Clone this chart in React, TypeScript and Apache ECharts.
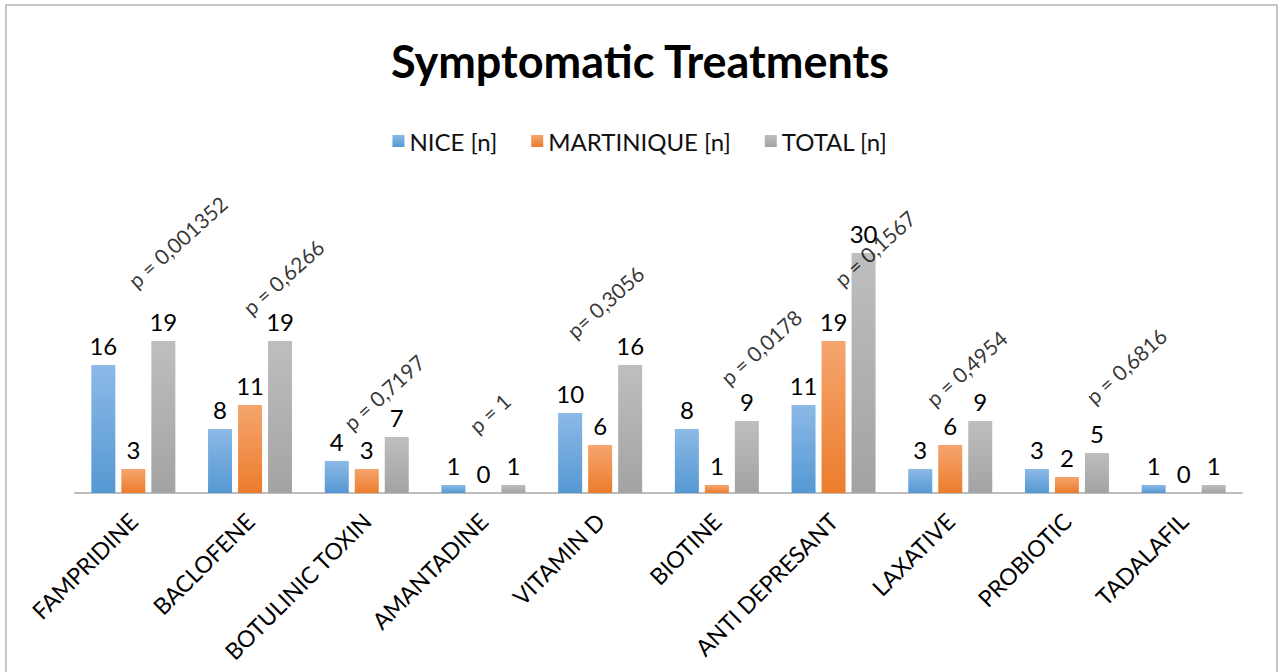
import React, { useEffect, useRef } from "react";
import * as echarts from "echarts";

const categories = [
  "FAMPRIDINE",
  "BACLOFENE",
  "BOTULINIC TOXIN",
  "AMANTADINE",
  "VITAMIN D",
  "BIOTINE",
  "ANTI DEPRESANT",
  "LAXATIVE",
  "PROBIOTIC",
  "TADALAFIL",
];
const seriesNames = ["NICE [n]", "MARTINIQUE [n]", "TOTAL [n]"];
const nice = [16, 8, 4, 1, 10, 8, 11, 3, 3, 1];
const martinique = [3, 11, 3, 0, 6, 1, 19, 6, 2, 0];
const total = [19, 19, 7, 1, 16, 9, 30, 9, 5, 1];
const pLabels = [
  "p = 0,001352",
  "p = 0,6266",
  "p = 0,7197",
  "p = 1",
  "p= 0,3056",
  "p = 0,0178",
  "p = 0,1567",
  "p = 0,4954",
  "p = 0,6816",
];
// annotation anchors: [category index, value height, x offset px]
const pAnchors: [number, number, number][] = [
  [0, 31.4, 44],
  [1, 27.0, 33],
  [2, 12.6, 17],
  [3, 10.0, 6],
  [4, 23.9, 5],
  [5, 18.25, 44],
  [6, 30.6, 41],
  [7, 15.6, 16],
  [8, 15.9, 59],
];

const FONT = "Lato";
const P_ROT = 42;

function grad(top: string, bottom: string) {
  return new echarts.graphic.LinearGradient(0, 0, 0, 1, [
    { offset: 0, color: top },
    { offset: 1, color: bottom },
  ]);
}

export default function App() {
  const ref = useRef<HTMLDivElement>(null);
  useEffect(() => {
    if (!ref.current) return;
    const chart = echarts.init(ref.current, undefined, { renderer: "svg" });
    const colors = [
      grad("#8cb9e6", "#5598d3"),
      grad("#f5a56e", "#ec7c2c"),
      grad("#bebebe", "#a3a3a3"),
    ];
    const values = [nice, martinique, total];
    const barSeries = values.map((vals, k) => ({
      name: seriesNames[k],
      type: "bar",
      data: vals,
      barWidth: 24,
      barGap: "25%",
      itemStyle: { color: colors[k] },
      label: {
        show: true,
        position: "top",
        distance: 8,
        color: "#000",
        fontSize: 24,
        fontFamily: FONT,
      },
    }));
    const th = (P_ROT * Math.PI) / 180;
    const pSeries = {
      name: "p",
      type: "scatter",
      symbolSize: 0,
      silent: true,
      data: pAnchors.map((a, i) => ({
        value: [a[0], a[1]],
        label: {
          show: true,
          position: "inside",
          offset: [a[2] * Math.cos(th), a[2] * Math.sin(th)],
          rotate: P_ROT,
          formatter: pLabels[i],
          color: "#000",
          fontSize: 21,
          fontFamily: FONT,
        },
      })),
    };
    chart.setOption({
      animation: false,
      backgroundColor: "#fff",
      title: {
        text: "Symptomatic Treatments",
        left: "center",
        top: 33,
        textStyle: {
          fontFamily: FONT,
          fontWeight: "bold",
          fontSize: 45,
          color: "#000",
        },
      },
      legend: {
        data: seriesNames,
        top: 124,
        left: "center",
        itemWidth: 12,
        itemHeight: 12,
        itemGap: 34,
        icon: "rect",
        textStyle: { fontFamily: FONT, fontSize: 24, color: "#111" },
      },
      grid: { left: 75, right: 38, bottom: 179, top: 213 },
      xAxis: {
        type: "category",
        data: categories,
        axisLine: { lineStyle: { color: "#bdbdbd", width: 2 } },
        axisTick: { show: false },
        axisLabel: {
          rotate: 45,
          interval: 0,
          margin: 24,
          fontFamily: FONT,
          fontSize: 23,
          color: "#000",
        },
      },
      yAxis: { type: "value", min: 0, max: 35, show: false },
      graphic: [
        {
          type: "rect",
          shape: { x: 6, y: 5, width: 1271, height: 690 },
          style: { fill: "none", stroke: "#b4b4b4", lineWidth: 1.5 },
          silent: true,
        },
      ],
      series: [...barSeries, pSeries],
    });
    return () => chart.dispose();
  }, []);
  return <div ref={ref} style={{ width: 1280, height: 672, position: "absolute", left: 0, top: 0 }} />;
}
